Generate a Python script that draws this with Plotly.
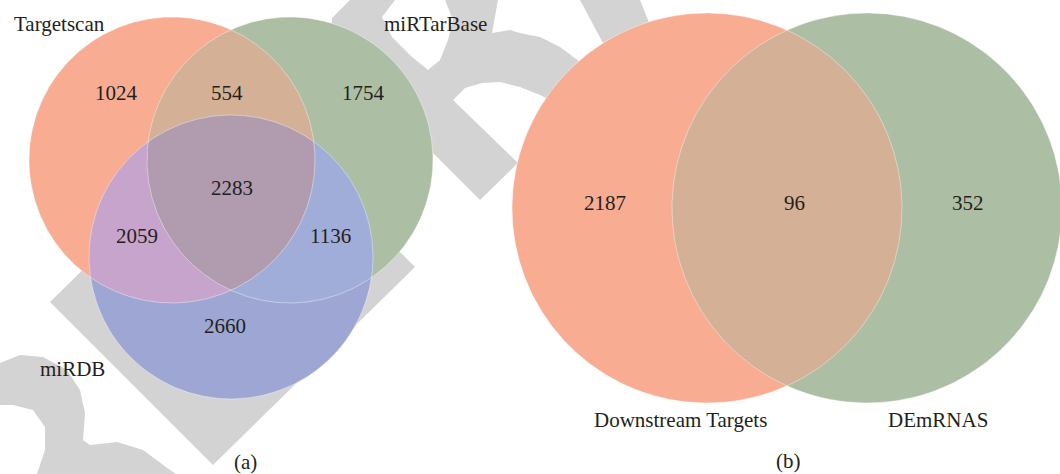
import numpy as np
import plotly.graph_objects as go

# ---------------- data ----------------
sets_a = ["Targetscan", "miRTarBase", "miRDB"]
regions_a = ["100", "110", "010", "111", "101", "011", "001"]
counts_a = [1024, 554, 1754, 2283, 2059, 1136, 2660]

sets_b = ["Downstream Targets", "DEmRNAS"]
regions_b = ["10", "11", "01"]
counts_b = [2187, 96, 352]

panel_labels = ["(a)", "(b)"]

# ---------------- layout / style (pixel geometry) ----------------
W, H = 1060, 474
circ_a = [(172, 160, 143), (290, 160, 143), (231, 257, 142)]
circ_b = [(707, 208, 195), (867, 208, 195)]

col_a = {
    "100": "rgb(248,172,146)", "010": "rgb(172,190,163)", "001": "rgb(158,167,212)",
    "110": "rgb(212,176,150)", "101": "rgb(199,164,204)", "011": "rgb(160,173,216)",
    "111": "rgb(177,155,175)",
}
col_b = {"10": "rgb(248,172,146)", "01": "rgb(172,190,163)", "11": "rgb(212,176,150)"}

pos_a = {"100": (116, 93), "110": (227, 93), "010": (363, 93), "111": (232, 188),
         "101": (137, 236), "011": (330, 236), "001": (225, 326)}
pos_b = {"10": (605, 203), "11": (794, 203), "01": (968, 203)}
set_lab_a = [(12, 24, "left"), (435, 24, "center"), (72, 369, "center")]
set_lab_b = [(680, 420, "center"), (938, 420, "center")]
panel_pos = [(245, 462), (788, 461)]

FONT = "Liberation Serif, Times New Roman, serif"
TXT = "#231f20"
GRAY = "rgb(211,211,211)"

fig = go.Figure()


def add_poly(xs, ys, color):
    fig.add_trace(go.Scatter(x=list(xs), y=list(ys), mode="lines", fill="toself",
                             fillcolor=color, line=dict(width=0, color=color),
                             hoverinfo="skip", showlegend=False))


# ---------------- watermark (background decoration) ----------------
wm_shapes = [
    ([50, 213, 415, 252], [302, 465, 267, 104], GRAY),
    ([332, 350, 498, 495, 492, 510, 520, 540, 560, 580, 600, 590, 550, 540, 520, 500, 482, 465, 453, 518, 480, 437, 330],
     [18, 0, 0, 15, 33, 30, 33, 37, 47, 62, 80, 110, 100, 95, 87, 82, 83, 88, 100, 163, 200, 157, 60], GRAY),
    ([395, 382, 392, 412, 428, 440, 448, 453, 445], [0, 17, 37, 57, 70, 60, 40, 20, 0], "white"),
    ([580, 640, 650, 640, 603], [0, 0, 25, 60, 43], GRAY),
    ([0, 20, 43, 67, 80, 85, 83, 90, 117, 143, 170, 176, 0],
     [363, 355, 357, 370, 390, 413, 440, 445, 442, 450, 470, 474, 474], GRAY),
    ([0, 13, 33, 45, 45, 37, 0], [405, 405, 410, 427, 450, 474, 474], "white"),
]
for xs, ys, c in wm_shapes:
    add_poly(xs, ys, c)


# ---------------- venn geometry ----------------
def region_poly(circles, inside_idx):
    """Boundary of the intersection of the given circles (convex)."""
    pts = []
    t = np.linspace(0, 2 * np.pi, 1440, endpoint=False)
    sel = [circles[i] for i in inside_idx]
    for (cx, cy, r) in sel:
        px = cx + r * np.cos(t)
        py = cy + r * np.sin(t)
        ok = np.ones_like(px, dtype=bool)
        for (ox, oy, orr) in sel:
            ok &= (px - ox) ** 2 + (py - oy) ** 2 <= orr ** 2 + 2 * orr * 0.05
        pts.append(np.c_[px[ok], py[ok]])
    P = np.vstack(pts)
    c = P.mean(axis=0)
    ang = np.arctan2(P[:, 1] - c[1], P[:, 0] - c[0])
    P = P[np.argsort(ang)]
    return P[:, 0], P[:, 1]


def draw_venn(circles, colors, keys_single, combos):
    for i, k in enumerate(keys_single):
        xs, ys = region_poly(circles, [i])
        add_poly(xs, ys, colors[k])
    for key in combos:
        idx = [i for i, ch in enumerate(key) if ch == "1"]
        xs, ys = region_poly(circles, idx)
        add_poly(xs, ys, colors[key])
    t = np.linspace(0, 2 * np.pi, 721)
    for (cx, cy, r) in circles:
        fig.add_trace(go.Scatter(x=cx + r * np.cos(t), y=cy + r * np.sin(t), mode="lines",
                                 line=dict(width=0.8, color="rgba(255,255,255,0.5)"),
                                 hoverinfo="skip", showlegend=False))


draw_venn(circ_a, col_a, ["100", "010", "001"], ["110", "101", "011", "111"])
draw_venn(circ_b, col_b, ["10", "01"], ["11"])

# ---------------- text ----------------
anns = []


def txt(x, y, s, align="center", size=21):
    anns.append(dict(x=x, y=y, xref="x", yref="y", text=s, showarrow=False,
                     xanchor=align, yanchor="middle",
                     font=dict(family=FONT, size=size, color=TXT)))


for k, v in zip(regions_a, counts_a):
    txt(*pos_a[k], str(v))
for k, v in zip(regions_b, counts_b):
    txt(*pos_b[k], str(v))
for (x, y, al), s in zip(set_lab_a, sets_a):
    txt(x, y, s, al)
for (x, y, al), s in zip(set_lab_b, sets_b):
    txt(x, y, s, al)
for (x, y), s in zip(panel_pos, panel_labels):
    txt(x, y, s)

fig.update_layout(
    width=W, height=H, margin=dict(l=0, r=0, t=0, b=0),
    paper_bgcolor="white", plot_bgcolor="white",
    xaxis=dict(range=[0, W], visible=False, fixedrange=True),
    yaxis=dict(range=[H, 0], visible=False, fixedrange=True),
    annotations=anns, showlegend=False,
)
fig.write_html("out.html", config={"displayModeBar": False},
               post_script="document.body.style.margin='0';document.body.style.overflow='hidden';")
